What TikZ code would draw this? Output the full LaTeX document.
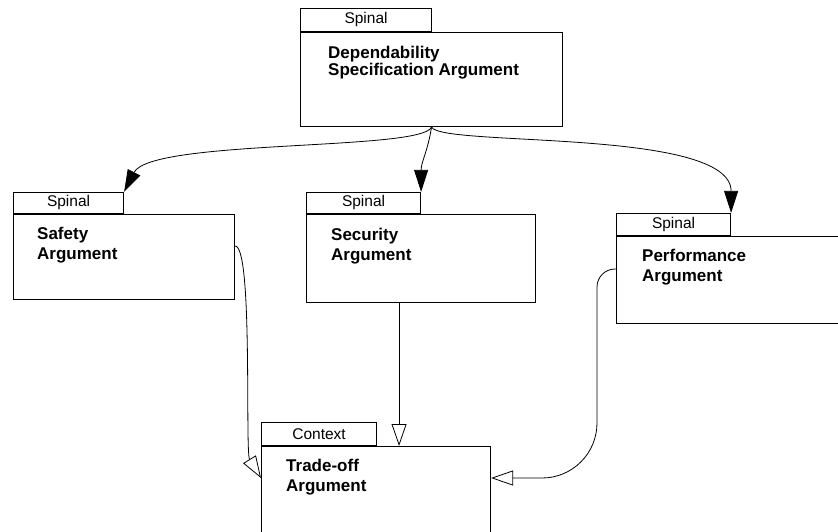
\documentclass[tikz,border=0pt]{standalone}
\usepackage{fontspec}
\setmainfont{Liberation Sans}
\usepackage{tikz}
\usetikzlibrary{arrows.meta}

\begin{document}
\begin{tikzpicture}[x=1pt,y=-1pt,
  argbox/.style={draw,line width=1.1pt,anchor=north west,inner sep=0pt},
  tabbox/.style={draw,line width=1.1pt,anchor=south west,inner sep=0pt,minimum height=21pt,font=\fontsize{15.5}{18}\selectfont},
  argtext/.style={anchor=north west,inner sep=0pt,align=left,font=\fontsize{17}{20}\bfseries\selectfont},
  spinearrow/.style={line width=0.8pt,-{Triangle[length=22pt,width=14pt]}},
  ctxarrow/.style={line width=0.8pt,-{Triangle[open,length=22pt,width=15pt,line width=0.8pt]}}]
\useasboundingbox (0,0) rectangle (838,531);
% boxes
\node[argbox,minimum width=262pt,minimum height=94pt] (dsa) at (300,32) {};
\node[tabbox,minimum width=131pt,minimum height=23pt] (dsatab) at (dsa.north west) {Spinal};
\node[argtext] (dsatext) at ([shift={(28,14)}]dsa.north west) {Dependability\\[-3pt]Specification Argument};
\node[argbox,minimum width=221pt,minimum height=85pt] (saf) at (13,214) {};
\node[tabbox,minimum width=110pt] (saftab) at (saf.north west) {Spinal};
\node[argtext] (saftext) at ([shift={(24,13)}]saf.north west) {Safety\\Argument};
\node[argbox,minimum width=229pt,minimum height=88pt] (sec) at (306,214) {};
\node[tabbox,minimum width=114pt] (sectab) at (sec.north west) {Spinal};
\node[argtext] (sectext) at ([shift={(25,14)}]sec.north west) {Security\\Argument};
\node[argbox,minimum width=240pt,minimum height=87pt] (perf) at (616,236) {};
\node[tabbox,minimum width=114pt,minimum height=22pt] (perftab) at (perf.north west) {Spinal};
\node[argtext] (perftext) at ([shift={(26,13)}]perf.north west) {Performance\\Argument};
\node[argbox,minimum width=229pt,minimum height=100pt] (trade) at (261,446) {};
\node[tabbox,minimum width=115pt,minimum height=23pt] (tradetab) at (trade.north west) {Context};
\node[argtext] (tradetext) at ([shift={(25,13)}]trade.north west) {Trade-off\\Argument};
% spinal links
\draw[spinearrow] (dsa.south) .. controls +(-10,24) and +(27,-53) .. (saftab.north east);
\draw[spinearrow] (dsa.south) .. controls +(-4,25) and +(0,-30) .. (sectab.north east);
\draw[spinearrow] (dsa.south) .. controls +(10,20) and +(0,-85) .. (perftab.north east);
% context links
\coordinate (secout) at ([xshift=-22pt]sec.south);
\coordinate (perfbend) at ([xshift=-19pt]perf.south west);
\draw[ctxarrow] ([shift={(0,32)}]saf.north east) .. controls +(18,0) and +(-16,-26) .. ([shift={(0,32)}]trade.north west);
\draw[ctxarrow] (secout) -- (secout |- trade.north);
\draw[ctxarrow] ([shift={(0,33)}]perf.north west) [rounded corners=18pt] -| (perfbend) [rounded corners=55pt] |- ([shift={(0,32)}]trade.north east);
\end{tikzpicture}
\end{document}
